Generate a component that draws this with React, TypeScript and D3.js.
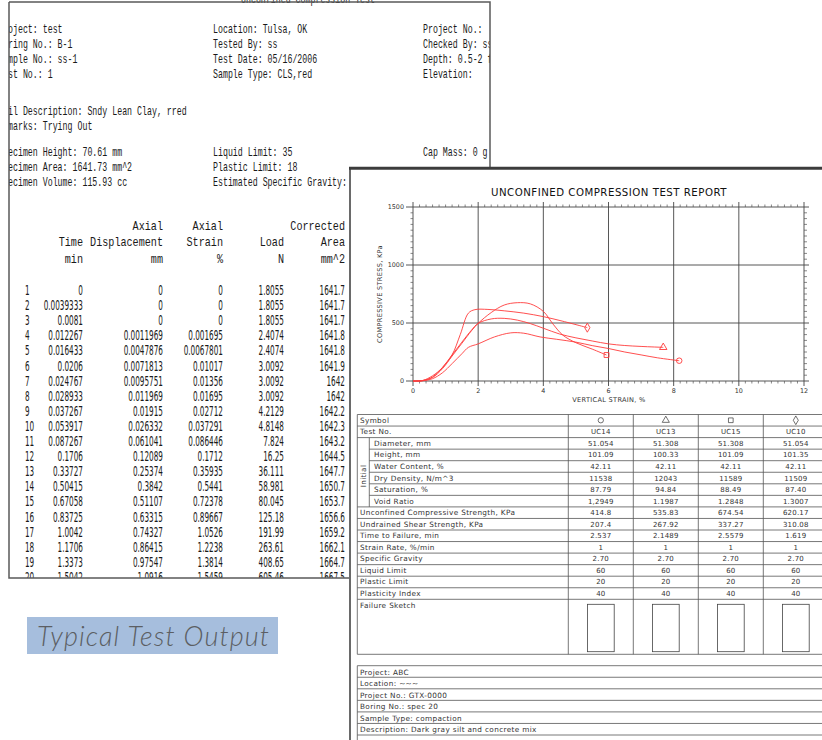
import React from 'react';
import * as d3 from 'd3';

// ---------- left sheet: raw test output ----------
const infoLeft = ['Project: test', 'Boring No.: B-1', 'Sample No.: ss-1', 'Test No.: 1'];
const infoMid = ['Location: Tulsa, OK', 'Tested By: ss', 'Test Date: 05/16/2006', 'Sample Type: CLS,red'];
const infoRight = ['Project No.:', 'Checked By: ss', 'Depth: 0.5-2 ft', 'Elevation:'];
const soilLines = ['Soil Description: Sndy Lean Clay, rred', 'Remarks: Trying Out'];
const specLeft = ['Specimen Height: 70.61 mm', 'Specimen Area: 1641.73 mm^2', 'Specimen Volume: 115.93 cc'];
const specMid = ['Liquid Limit: 35', 'Plastic Limit: 18', 'Estimated Specific Gravity: 2.7'];
const specRight = ['Cap Mass: 0 g'];

const colHead1 = ['', '', 'Axial', 'Axial', '', 'Corrected'];
const colHead2 = ['', 'Time', 'Displacement', 'Strain', 'Load', 'Area'];
const colHead3 = ['', 'min', 'mm', '%', 'N', 'mm^2'];

const timeMin = ['0', '0.0039333', '0.0081', '0.012267', '0.016433', '0.0206', '0.024767', '0.028933', '0.037267', '0.053917',
  '0.087267', '0.1706', '0.33727', '0.50415', '0.67058', '0.83725', '1.0042', '1.1706', '1.3373', '1.5042'];
const axialDisp = ['0', '0', '0', '0.0011969', '0.0047876', '0.0071813', '0.0095751', '0.011969', '0.01915', '0.026332',
  '0.061041', '0.12089', '0.25374', '0.3842', '0.51107', '0.63315', '0.74327', '0.86415', '0.97547', '1.0916'];
const axialStrain = ['0', '0', '0', '0.001695', '0.0067801', '0.01017', '0.01356', '0.01695', '0.02712', '0.037291',
  '0.086446', '0.1712', '0.35935', '0.5441', '0.72378', '0.89667', '1.0526', '1.2238', '1.3814', '1.5459'];
const loadN = ['1.8055', '1.8055', '1.8055', '2.4074', '2.4074', '3.0092', '3.0092', '3.0092', '4.2129', '4.8148',
  '7.824', '16.25', '36.111', '58.981', '80.045', '125.18', '191.99', '263.61', '408.65', '605.46'];
const corrArea = ['1641.7', '1641.7', '1641.7', '1641.8', '1641.8', '1641.9', '1642', '1642', '1642.2', '1642.3',
  '1643.2', '1644.5', '1647.7', '1650.7', '1653.7', '1656.6', '1659.2', '1662.1', '1664.7', '1667.5'];

// ---------- right sheet: report ----------
const specimens = ['UC14', 'UC13', 'UC15', 'UC10'];
const markerTypes = [d3.symbolCircle, d3.symbolTriangle, d3.symbolSquare, d3.symbolDiamond];

// strain %, stress kPa
const curveUC14 = [[0, 0], [0.3, 2], [0.6, 20], [0.9, 70], [1.2, 150], [1.5, 235], [1.7, 290], [2.0, 320], [2.5, 380],
  [3.0, 415], [3.4, 412], [3.9, 380], [4.4, 360], [5.0, 335], [5.5, 305], [6.0, 280], [6.5, 250], [7.0, 225], [7.5, 200], [8.17, 175]];
const curveUC13 = [[0, 0], [0.3, 4], [0.6, 35], [0.9, 115], [1.2, 225], [1.5, 335], [1.8, 440], [2.0, 497], [2.4, 535],
  [2.8, 540], [3.2, 525], [3.6, 495], [4.0, 455], [4.5, 405], [5.0, 372], [5.5, 345], [6.0, 320], [6.5, 306], [7.0, 298], [7.68, 290]];
const curveUC15 = [[0, 0], [0.3, 3], [0.6, 30], [0.9, 105], [1.2, 215], [1.5, 325], [1.8, 435], [2.0, 497], [2.4, 590],
  [2.8, 655], [3.2, 675], [3.6, 665], [4.0, 600], [4.3, 490], [4.6, 395], [5.0, 330], [5.5, 275], [5.94, 224]];
const curveUC10 = [[0, 0], [0.3, 5], [0.6, 45], [0.9, 115], [1.2, 225], [1.45, 400], [1.7, 585], [1.9, 615], [2.3, 617],
  [2.8, 605], [3.4, 585], [4.0, 555], [4.6, 515], [5.35, 460]];
const curves = [curveUC14, curveUC13, curveUC15, curveUC10];

const initialLabels = ['Diameter, mm', 'Height, mm', 'Water Content, %', 'Dry Density, N/m^3', 'Saturation, %', 'Void Ratio'];
const initialValues = [
  ['51.054', '51.308', '51.308', '51.054'],
  ['101.09', '100.33', '101.09', '101.35'],
  ['42.11', '42.11', '42.11', '42.11'],
  ['11538', '12043', '11589', '11509'],
  ['87.79', '94.84', '88.49', '87.40'],
  ['1,2949', '1.1987', '1.2848', '1.3007'],
];
const resultLabels = ['Unconfined Compressive Strength, KPa', 'Undrained Shear Strength, KPa', 'Time to Failure, min',
  'Strain Rate, %/min', 'Specific Gravity', 'Liquid Limit', 'Plastic Limit', 'Plasticity Index'];
const resultValues = [
  ['414.8', '535.83', '674.54', '620.17'],
  ['207.4', '267.92', '337.27', '310.08'],
  ['2.537', '2.1489', '2.5579', '1.619'],
  ['1', '1', '1', '1'],
  ['2.70', '2.70', '2.70', '2.70'],
  ['60', '60', '60', '60'],
  ['20', '20', '20', '20'],
  ['40', '40', '40', '40'],
];
const projectInfo = ['Project: ABC', 'Location: ~~~', 'Project No.: GTX-0000', 'Boring No.: spec 20',
  'Sample Type: compaction', 'Description: Dark gray silt and concrete mix'];

const MONO = "'Liberation Mono', 'DejaVu Sans Mono', monospace";
const CAD = "'DejaVu Sans', sans-serif";
const RED = '#ff3b3b';

// horizontally condensed text, like the scanned printout
function Cond({ x, y, s, size, anchor = 'start', font = MONO, children }: any) {
  return (
    <text transform={`translate(${x},${y}) scale(${s},1)`} fontSize={size} textAnchor={anchor}
      fontFamily={font} fill="#1a1a1a">{children}</text>
  );
}

function LeftSheet() {
  const rowY = d3.scaleLinear().domain([0, 1]).range([295, 310.1]);
  const colRight = [null, 83, 163, 223, 284, 345];
  const cols = [timeMin, axialDisp, axialStrain, loadN, corrArea];
  const cw = 12 * 0.6 * 0.69; // info char width
  return (
    <g>
      <defs>
        <clipPath id="leftClip"><rect x={9} y={0} width={481} height={578} /></clipPath>
      </defs>
      <rect x={9} y={2} width={481} height={576} fill="#fff" />
      <g clipPath="url(#leftClip)">
        <Cond x={308} y={2.5} s={0.69} size={12} anchor="middle">Unconfined Compression Test</Cond>
        {infoLeft.map((t, i) => <Cond key={'a' + i} x={8 - 2 * cw} y={32.5 + i * 15} s={0.69} size={12}>{t}</Cond>)}
        {infoMid.map((t, i) => <Cond key={'b' + i} x={213} y={32.5 + i * 15} s={0.69} size={12}>{t}</Cond>)}
        {infoRight.map((t, i) => <Cond key={'c' + i} x={423} y={32.5 + i * 15} s={0.69} size={12}>{t}</Cond>)}
        {soilLines.map((t, i) => <Cond key={'d' + i} x={8 - 2 * cw} y={115 + i * 15} s={0.69} size={12}>{t}</Cond>)}
        {specLeft.map((t, i) => <Cond key={'e' + i} x={8 - 2 * cw} y={155.5 + i * 15} s={0.69} size={12}>{t}</Cond>)}
        {specMid.map((t, i) => <Cond key={'f' + i} x={213} y={155.5 + i * 15} s={0.69} size={12}>{t}</Cond>)}
        {specRight.map((t, i) => <Cond key={'g' + i} x={423} y={155.5 + i * 15} s={0.69} size={12}>{t}</Cond>)}

        {[colHead1, colHead2, colHead3].map((row, r) => row.map((t, c) => t ? (
          <Cond key={`h${r}-${c}`} x={colRight[c]} y={229.5 + r * 16.5} s={0.78} size={13} anchor="end">{t}</Cond>
        ) : null))}

        {timeMin.map((_, i) => (
          <g key={'r' + i}>
            <Cond x={25} y={rowY(i)} s={0.52} size={14} font={CAD}>{String(i + 1)}</Cond>
            {cols.map((col, c) => (
              <Cond key={c} x={colRight[c + 1]} y={rowY(i)} s={0.52} size={14} anchor="end" font={CAD}>{col[i]}</Cond>
            ))}
          </g>
        ))}
      </g>
      <path d="M9,2 H490 V170 M9,2 V578 H352" fill="none" stroke="#5a5a5a" strokeWidth={1.5} />
    </g>
  );
}

function ReportChart() {
  const x = d3.scaleLinear().domain([0, 12]).range([413, 804]);
  const y = d3.scaleLinear().domain([0, 1500]).range([381, 207]);
  const line = d3.line<number[]>().x(d => x(d[0])).y(d => y(d[1])).curve(d3.curveCatmullRom.alpha(0.5));
  const xMajor = x.ticks(6);
  const yMajor = y.ticks(3);
  const xMinor = x.ticks(60).filter(v => Math.abs(v / 2 - Math.round(v / 2)) > 1e-6);
  const yMinor = y.ticks(30).filter(v => v % 500 !== 0);
  const [x0, x1] = x.range();
  const [yb, yt] = y.range();
  return (
    <g>
      <text x={609} y={196} textAnchor="middle" fontFamily={CAD} fontSize={10.2} letterSpacing={0.5} fill="#111">
        UNCONFINED COMPRESSION TEST REPORT
      </text>
      {xMajor.map(v => <line key={'gx' + v} x1={x(v)} x2={x(v)} y1={yt - 5} y2={yb + 5} stroke="#444" strokeWidth={0.9} />)}
      {yMajor.map(v => <line key={'gy' + v} x1={x0 - 7} x2={x1 + 5} y1={y(v)} y2={y(v)} stroke="#444" strokeWidth={0.9} />)}
      {xMinor.map(v => (
        <g key={'mx' + v} stroke="#555" strokeWidth={0.7}>
          <line x1={x(v)} x2={x(v)} y1={yt} y2={yt - 2.5} />
          <line x1={x(v)} x2={x(v)} y1={yb} y2={yb + 2.5} />
        </g>
      ))}
      {yMinor.map(v => (
        <g key={'my' + v} stroke="#555" strokeWidth={0.7}>
          <line x1={x0} x2={x0 - 2.5} y1={y(v)} y2={y(v)} />
          <line x1={x1} x2={x1 + 3} y1={y(v)} y2={y(v)} />
        </g>
      ))}
      {yMajor.map(v => (
        <text key={'ly' + v} x={x0 - 9} y={y(v) + 2.3} textAnchor="end" fontFamily={CAD} fontSize={6.4} fill="#333">{v}</text>
      ))}
      {xMajor.map(v => (
        <text key={'lx' + v} x={x(v)} y={393} textAnchor="middle" fontFamily={CAD} fontSize={6.4} fill="#333">{v}</text>
      ))}
      <text x={609} y={401.5} textAnchor="middle" fontFamily={CAD} fontSize={6.6} letterSpacing={0.3} fill="#333">VERTICAL STRAIN, %</text>
      <text transform={`translate(381.5,${(yt + yb) / 2}) rotate(-90)`} textAnchor="middle" fontFamily={CAD}
        fontSize={6.6} letterSpacing={0.3} fill="#333">COMPRESSIVE STRESS, KPa</text>
      {curves.map((c, i) => (
        <g key={'c' + i}>
          <path d={line(c) as string} fill="none" stroke={RED} strokeWidth={0.9} />
          <path transform={`translate(${x(c[c.length - 1][0])},${y(c[c.length - 1][1])})`}
            d={d3.symbol(markerTypes[i], 24)() as string} fill="none" stroke={RED} strokeWidth={0.9} />
        </g>
      ))}
    </g>
  );
}

function ReportTable() {
  const rowTop = d3.scaleLinear().domain([0, 1]).range([414.5, 426.05]);
  const col = d3.scaleBand().domain(specimens).range([568.3, 828.3]);
  const left = 357.3, right = 830;
  const rh = rowTop(1) - rowTop(0);
  const lines: JSX.Element[] = [];
  for (let r = 0; r <= 16; r++) {
    const inGroup = r >= 3 && r <= 7;
    lines.push(<line key={'h' + r} x1={inGroup ? 369.3 : left} x2={right} y1={rowTop(r)} y2={rowTop(r)} />);
  }
  const failBottom = 654.3;
  lines.push(<line key="hb" x1={left} x2={right} y1={failBottom} y2={failBottom} />);
  lines.push(<line key="vl" x1={left} x2={left} y1={rowTop(0)} y2={failBottom} />);
  lines.push(<line key="vg" x1={369.3} x2={369.3} y1={rowTop(2)} y2={rowTop(8)} />);
  specimens.forEach(s => {
    lines.push(<line key={'v' + s} x1={col(s)!} x2={col(s)!} y1={rowTop(0)} y2={failBottom} />);
  });
  const cx = (s: string) => col(s)! + col.bandwidth() / 2;
  const txt = { fontFamily: CAD, fontSize: 7.3, letterSpacing: 0.35, fill: '#333' };
  const val = { fontFamily: CAD, fontSize: 7, letterSpacing: 0.2, fill: '#333' };
  const base = (r: number) => rowTop(r) + rh / 2 + 2.5;
  const infoTop = d3.scaleLinear().domain([0, 1]).range([665.7, 677.25]);
  return (
    <g>
      <g stroke="#555" strokeWidth={0.8}>{lines}</g>
      <text x={360} y={base(0)} {...txt}>Symbol</text>
      {specimens.map((s, i) => (
        <path key={'sym' + s} transform={`translate(${cx(s)},${rowTop(0) + rh / 2})`}
          d={d3.symbol(markerTypes[i], 22)() as string} fill="none" stroke="#333" strokeWidth={0.7} />
      ))}
      <text x={360} y={base(1)} {...txt}>Test No.</text>
      {specimens.map(s => <text key={'tn' + s} x={cx(s)} y={base(1)} textAnchor="middle" {...val}>{s}</text>)}
      <text transform={`translate(365.5,476) rotate(-90)`} textAnchor="middle" {...txt}>Initial</text>
      {initialLabels.map((l, i) => (
        <g key={'il' + i}>
          <text x={374} y={base(i + 2)} {...txt}>{l}</text>
          {specimens.map((s, j) => (
            <text key={s} x={cx(s)} y={base(i + 2)} textAnchor="middle" {...val}>{initialValues[i][j]}</text>
          ))}
        </g>
      ))}
      {resultLabels.map((l, i) => (
        <g key={'rl' + i}>
          <text x={360} y={base(i + 8)} {...txt}>{l}</text>
          {specimens.map((s, j) => (
            <text key={s} x={cx(s)} y={base(i + 8)} textAnchor="middle" {...val}>{resultValues[i][j]}</text>
          ))}
        </g>
      ))}
      <text x={360} y={rowTop(16) + 8.5} {...txt}>Failure Sketch</text>
      {specimens.map(s => (
        <rect key={'fs' + s} x={cx(s) - 13.3} y={604.3} width={26.7} height={47.4} fill="none" stroke="#444" strokeWidth={0.8} />
      ))}
      <g stroke="#555" strokeWidth={0.8}>
        <line x1={left} x2={left} y1={infoTop(0)} y2={740} />
        {projectInfo.map((_, i) => (
          <line key={'pl' + i} x1={left} x2={right} y1={infoTop(i)} y2={infoTop(i)} />
        ))}
        <line x1={left} x2={right} y1={infoTop(projectInfo.length)} y2={infoTop(projectInfo.length)} />
      </g>
      {projectInfo.map((t, i) => (
        <text key={'pt' + i} x={360} y={infoTop(i + 1) - 2.6} {...txt}>{t}</text>
      ))}
    </g>
  );
}

export default function App() {
  return (
    <svg width={822} height={740} style={{ position: 'absolute', left: 0, top: 0, background: '#fff' }}>
      <rect x={0} y={0} width={822} height={740} fill="#fff" />
      <LeftSheet />
      <rect x={27} y={617} width={251} height={37} fill="#a6bedd" />
      <text x={37} y={646} fontFamily="Lato, 'Open Sans', sans-serif" fontStyle="italic" fontWeight={300}
        fontSize={27} letterSpacing={1.1} fill="#5c5e63">Typical Test Output</text>

      <rect x={349} y={167} width={480} height={580} fill="#fff" />
      <line x1={350} x2={350} y1={167} y2={740} stroke="#6a6a6a" strokeWidth={2} />
      <line x1={349} x2={822} y1={168.2} y2={168.2} stroke="#3c3c3c" strokeWidth={3} />
      <ReportChart />
      <ReportTable />
    </svg>
  );
}
